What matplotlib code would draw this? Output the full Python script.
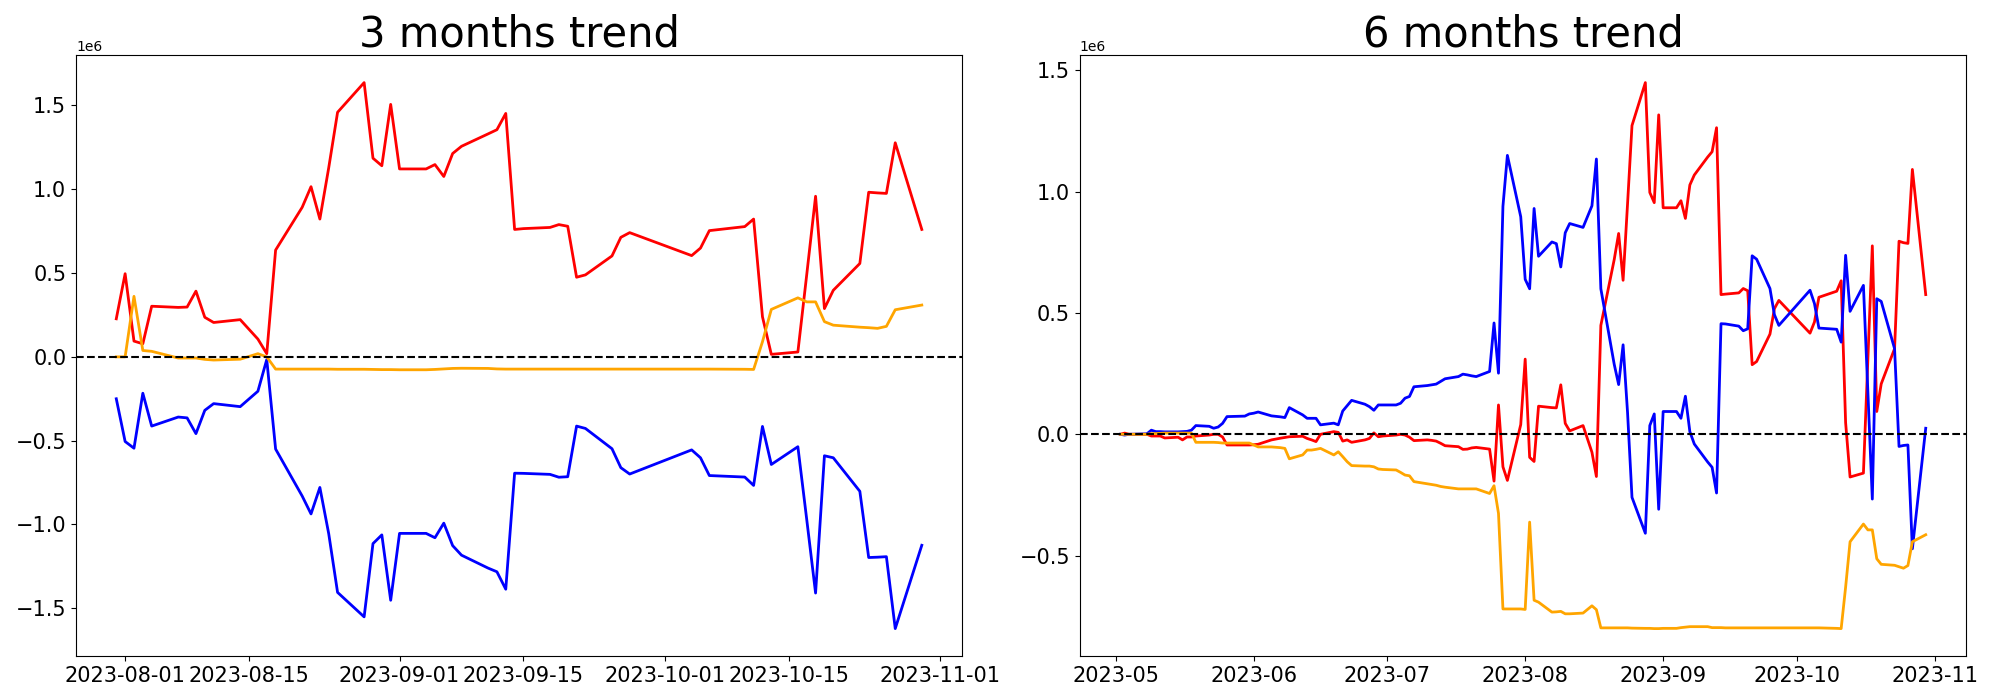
import matplotlib
matplotlib.use("Agg")
import matplotlib.pyplot as plt
import pandas as pd

# Korean market holidays inside the plotted range
holidays = ["2023-05-05", "2023-05-29", "2023-06-06", "2023-08-15",
            "2023-09-28", "2023-09-29", "2023-10-02", "2023-10-03", "2023-10-09"]

dates_3m = pd.bdate_range("2023-07-31", "2023-10-30").drop(pd.to_datetime(holidays), errors="ignore")
dates_6m = pd.bdate_range("2023-05-02", "2023-10-30").drop(pd.to_datetime(holidays), errors="ignore")

# 3 months trend (values in 1e6)
red_3m = [0.227, 0.496, 0.094, 0.078, 0.302, 0.295, 0.297, 0.392, 0.236, 0.205,
          0.222, 0.106, 0.019, 0.637, 0.892, 1.015, 0.822, 1.128, 1.459, 1.636,
          1.185, 1.140, 1.506, 1.121, 1.121, 1.147, 1.076, 1.213, 1.256, 1.330,
          1.355, 1.452, 0.760, 0.765, 0.772, 0.789, 0.779, 0.475, 0.489, 0.602,
          0.713, 0.741, 0.604, 0.649, 0.753, 0.777, 0.822, 0.239, 0.015, 0.029,
          0.490, 0.958, 0.288, 0.397, 0.557, 0.982, 0.978, 0.975, 1.277, 0.760]
blue_3m = [-0.250, -0.505, -0.545, -0.217, -0.413, -0.359, -0.364, -0.458, -0.319, -0.279,
           -0.297, -0.205, -0.016, -0.550, -0.830, -0.937, -0.779, -1.055, -1.405, -1.551,
           -1.114, -1.062, -1.452, -1.053, -1.053, -1.079, -0.992, -1.126, -1.183, -1.260,
           -1.282, -1.386, -0.694, -0.695, -0.701, -0.718, -0.715, -0.413, -0.427, -0.548,
           -0.661, -0.699, -0.555, -0.602, -0.708, -0.717, -0.767, -0.415, -0.642, -0.536,
           -0.970, -1.409, -0.590, -0.602, -0.802, -1.197, -1.195, -1.192, -1.621, -1.124]
orange_3m = [0.000, 0.000, 0.361, 0.038, 0.033, -0.007, -0.007, -0.007, -0.015, -0.019,
             -0.014, 0.019, 0.000, -0.073, -0.073, -0.073, -0.073, -0.073, -0.074, -0.074,
             -0.075, -0.076, -0.076, -0.077, -0.077, -0.075, -0.072, -0.069, -0.068, -0.069,
             -0.072, -0.073, -0.073, -0.073, -0.073, -0.073, -0.073, -0.073, -0.073, -0.073,
             -0.073, -0.073, -0.073, -0.073, -0.073, -0.074, -0.075, 0.090, 0.283, 0.352,
             0.328, 0.328, 0.210, 0.189, 0.177, 0.174, 0.170, 0.182, 0.281, 0.309]

# 6 months trend (values in 1e6)
red_6m = [0.000, 0.005, 0.000, 0.000, -0.007, -0.007, -0.007, -0.015, -0.012, -0.023,
          -0.011, -0.011, -0.007, -0.003, 0.000, 0.000, -0.011, -0.044, -0.044, -0.044,
          -0.043, -0.041, -0.023, -0.016, -0.013, -0.010, -0.008, -0.017, -0.023, -0.030,
          0.000, 0.011, 0.008, -0.028, -0.023, -0.033, -0.023, -0.017, 0.006, -0.010,
          -0.007, -0.003, 0.000, -0.003, -0.012, -0.026, -0.023, -0.025, -0.028, -0.037,
          -0.047, -0.051, -0.062, -0.061, -0.056, -0.054, -0.061, -0.193, 0.121, -0.134,
          -0.190, 0.040, 0.310, -0.095, -0.112, 0.116, 0.110, 0.109, 0.204, 0.045,
          0.014, 0.036, -0.074, -0.174, 0.449, 0.720, 0.828, 0.635, 0.950, 1.273,
          1.450, 0.997, 0.955, 1.317, 0.934, 0.934, 0.963, 0.890, 1.028, 1.069,
          1.143, 1.165, 1.264, 0.576, 0.578, 0.583, 0.601, 0.592, 0.287, 0.300,
          0.413, 0.518, 0.552, 0.417, 0.463, 0.565, 0.590, 0.633, 0.048, -0.176,
          -0.160, 0.309, 0.777, 0.094, 0.208, 0.353, 0.796, 0.790, 0.787, 1.092,
          0.576]
blue_6m = [0.000, -0.003, 0.000, 0.002, 0.017, 0.011, 0.011, 0.010, 0.010, 0.011,
           0.012, 0.017, 0.036, 0.033, 0.025, 0.030, 0.045, 0.073, 0.075, 0.084,
           0.087, 0.092, 0.076, 0.072, 0.069, 0.110, 0.080, 0.066, 0.066, 0.066,
           0.039, 0.046, 0.039, 0.096, 0.118, 0.140, 0.124, 0.114, 0.099, 0.121,
           0.121, 0.121, 0.128, 0.149, 0.156, 0.196, 0.201, 0.204, 0.207, 0.218,
           0.229, 0.238, 0.248, 0.245, 0.241, 0.238, 0.259, 0.459, 0.252, 0.940,
           1.150, 0.897, 0.639, 0.600, 0.931, 0.734, 0.793, 0.786, 0.690, 0.831,
           0.869, 0.853, 0.942, 1.135, 0.600, 0.289, 0.205, 0.369, 0.090, -0.260,
           -0.408, 0.036, 0.084, -0.309, 0.094, 0.094, 0.066, 0.157, 0.011, -0.040,
           -0.114, -0.136, -0.242, 0.456, 0.455, 0.446, 0.427, 0.435, 0.736, 0.722,
           0.601, 0.493, 0.449, 0.594, 0.539, 0.438, 0.433, 0.380, 0.738, 0.507,
           0.614, 0.175, -0.267, 0.559, 0.548, 0.353, -0.050, -0.046, -0.044, -0.472,
           0.025]
orange_6m = [0.000, 0.000, 0.000, 0.000, 0.003, 0.003, 0.004, 0.005, 0.005, 0.005,
             0.005, 0.005, -0.033, -0.033, -0.033, -0.034, -0.036, -0.036, -0.036, -0.036,
             -0.044, -0.052, -0.052, -0.055, -0.058, -0.101, -0.085, -0.065, -0.065, -0.062,
             -0.058, -0.085, -0.072, -0.092, -0.113, -0.129, -0.131, -0.131, -0.134, -0.143,
             -0.145, -0.147, -0.157, -0.168, -0.171, -0.195, -0.204, -0.207, -0.210, -0.215,
             -0.218, -0.225, -0.225, -0.225, -0.225, -0.225, -0.244, -0.212, -0.326, -0.720,
             -0.720, -0.720, -0.722, -0.362, -0.684, -0.692, -0.733, -0.732, -0.730, -0.740,
             -0.740, -0.737, -0.707, -0.723, -0.798, -0.798, -0.798, -0.798, -0.798, -0.799,
             -0.800, -0.800, -0.801, -0.801, -0.800, -0.800, -0.797, -0.795, -0.793, -0.793,
             -0.793, -0.797, -0.797, -0.797, -0.798, -0.798, -0.798, -0.798, -0.798, -0.798,
             -0.798, -0.798, -0.798, -0.798, -0.798, -0.798, -0.800, -0.801, -0.630, -0.443,
             -0.370, -0.394, -0.394, -0.513, -0.536, -0.540, -0.546, -0.552, -0.541, -0.443,
             -0.414]

scale = 1e6

fig, axes = plt.subplots(1, 2, figsize=(20, 7), dpi=100)

panels = [
    (axes[0], "3 months trend", dates_3m, red_3m, blue_3m, orange_3m),
    (axes[1], "6 months trend", dates_6m, red_6m, blue_6m, orange_6m),
]

for ax, title, d, r, b, o in panels:
    ax.plot(d, [v * scale for v in r], color="red", linewidth=2)
    ax.plot(d, [v * scale for v in b], color="blue", linewidth=2)
    ax.plot(d, [v * scale for v in o], color="orange", linewidth=2)
    ax.axhline(0, color="black", linestyle="--", linewidth=1.5)
    ax.set_title(title, fontsize=30)
    ax.tick_params(axis="both", labelsize=15)

plt.subplots_adjust(left=0.038, right=0.983, bottom=0.063, top=0.921, wspace=0.133)
plt.savefig("out.png")
